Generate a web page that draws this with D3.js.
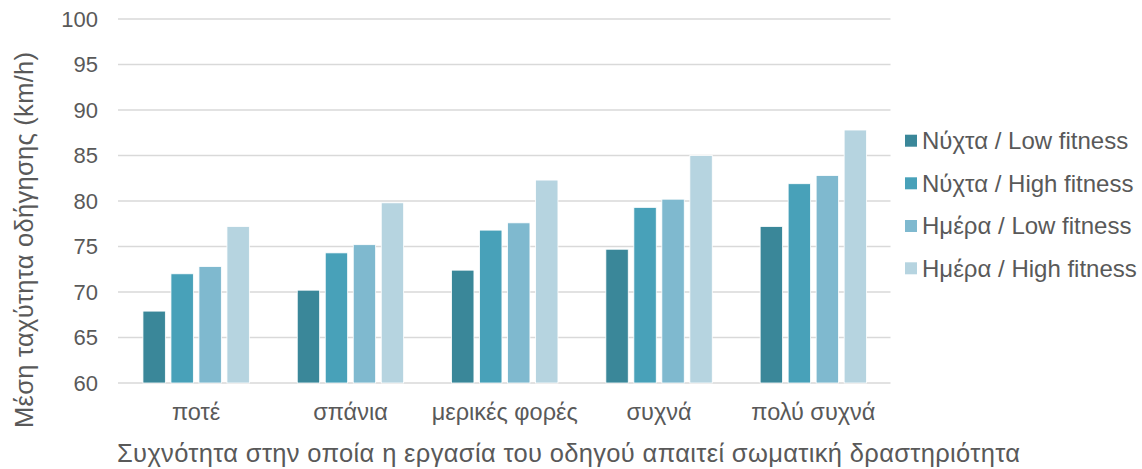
<!DOCTYPE html>
<html><head><meta charset="utf-8">
<script src="https://cdn.jsdelivr.net/npm/d3@7"></script>
<style>body{margin:0;background:#fff}text{font-family:"Liberation Sans",Arial,sans-serif;fill:#595959}</style>
</head><body><svg id="c" width="1142" height="469"></svg>
<script>
const categories = ["ποτέ","σπάνια","μερικές φορές","συχνά","πολύ συχνά"];
const seriesNames = ["Νύχτα / Low fitness","Νύχτα / High fitness","Ημέρα / Low fitness","Ημέρα / High fitness"];
const nightLow  = [67.9, 70.2, 72.4, 74.7, 77.2];
const nightHigh = [72.0, 74.3, 76.8, 79.3, 81.9];
const dayLow    = [72.8, 75.2, 77.6, 80.2, 82.8];
const dayHigh   = [77.2, 79.8, 82.3, 85.0, 87.8];
const yTicks = [60,65,70,75,80,85,90,95,100];
const colors = ["#3a8799","#48a1b9","#7fb9cf","#b6d4e0"];
const series = [nightLow, nightHigh, dayLow, dayHigh];

const svg = d3.select("#c");
const L=119, R=890.5, T=19, B=383;
const x = d3.scaleBand().domain(categories).range([L,R]).paddingInner(0).paddingOuter(0);
const y = d3.scaleLinear().domain([60,100]).range([B,T]);
const groupW = 106.4;
const xs = d3.scaleBand().domain(d3.range(4)).range([0,groupW]).paddingInner(0.2).paddingOuter(0);

svg.append("g").selectAll("line").data(yTicks).join("line")
  .attr("x1",L-1).attr("x2",R).attr("y1",d=>y(d)).attr("y2",d=>y(d))
  .attr("stroke","#d9d9d9").attr("stroke-width",1.3);

const ya = svg.append("g").attr("transform",`translate(${L},0)`)
  .call(d3.axisLeft(y).tickValues(yTicks).tickSize(0).tickPadding(21));
ya.select(".domain").remove();
ya.selectAll("text").attr("font-size",22).attr("fill","#595959").style("font-family","Liberation Sans, Arial, sans-serif");

series.forEach((s,i)=>{
  svg.append("g").selectAll("rect").data(s).join("rect")
    .attr("x",(d,j)=>x(categories[j])+x.bandwidth()/2-groupW/2+xs(i))
    .attr("width",xs.bandwidth())
    .attr("y",d=>y(d)).attr("height",d=>B-y(d))
    .attr("fill",colors[i]).attr("stroke","#ffffff").attr("stroke-width",0.8);
});

const xa = svg.append("g").attr("transform",`translate(0,${B})`)
  .call(d3.axisBottom(x).tickSize(0).tickPadding(20));
xa.select(".domain").remove();
xa.selectAll("text").attr("font-size",23.5).attr("fill","#595959").style("font-family","Liberation Sans, Arial, sans-serif");

svg.append("text").attr("x",568.5).attr("y",462).attr("text-anchor","middle")
  .attr("font-size",25.5).attr("textLength",903).attr("lengthAdjust","spacing")
  .text("Συχνότητα στην οποία η εργασία του οδηγού απαιτεί σωματική δραστηριότητα");
svg.append("text").attr("transform","translate(33,240) rotate(-90)").attr("text-anchor","middle")
  .attr("font-size",25.5).attr("textLength",376).attr("lengthAdjust","spacing")
  .text("Μέση ταχύτητα οδήγησης (km/h)");

const ly = [140.7,183.3,226,268.3];
const lg = svg.append("g");
seriesNames.forEach((n,i)=>{
  lg.append("rect").attr("x",905).attr("y",ly[i]-6).attr("width",12).attr("height",12).attr("fill",colors[i]);
  lg.append("text").attr("x",922).attr("y",ly[i]).attr("dy","0.35em").attr("font-size",24).text(n);
});
</script></body></html>
